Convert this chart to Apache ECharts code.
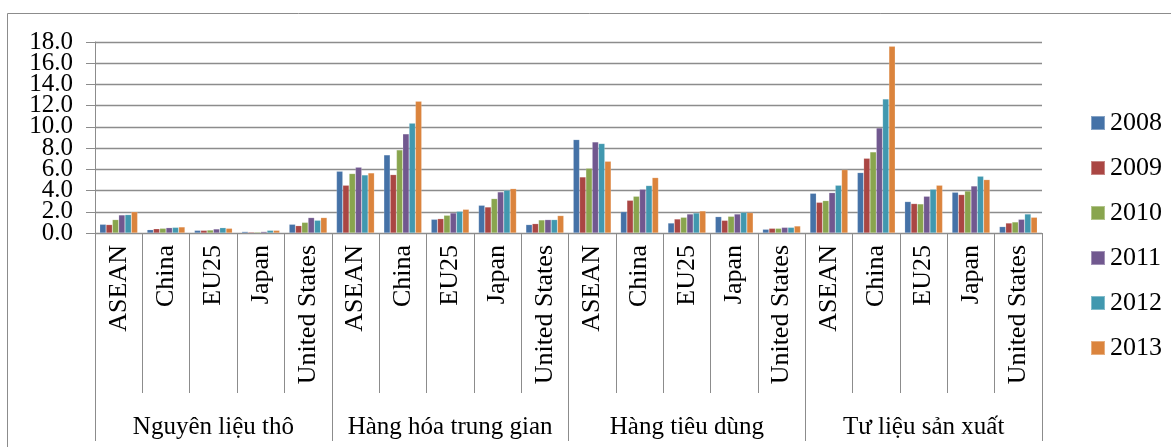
<!DOCTYPE html>
<html>
<head>
<meta charset="utf-8">
<script src="https://cdn.jsdelivr.net/npm/echarts@6/dist/echarts.min.js"></script>
<style>
  html, body { margin: 0; padding: 0; background: #ffffff; }
  #chart { width: 1171px; height: 447px; }
</style>
</head>
<body>
<div id="chart"></div>
<script>
// Product groups (outer axis level) and partner economies (inner level)
const groups = ['Nguyên liệu thô', 'Hàng hóa trung gian', 'Hàng tiêu dùng', 'Tư liệu sản xuất'];
const partners = ['ASEAN', 'China', 'EU25', 'Japan', 'United States'];
const years = ['2008', '2009', '2010', '2011', '2012', '2013'];
const yTicks = [0, 2, 4, 6, 8, 10, 12, 14, 16, 18];

// Values per year, ordered group by group, partner by partner
const v2008 = [0.82, 0.31, 0.25, 0.13, 0.82, 5.82, 7.36, 1.29, 2.61, 0.79, 8.80, 2.01, 0.94, 1.54, 0.35, 3.74, 5.69, 2.96, 3.84, 0.60];
const v2009 = [0.79, 0.40, 0.25, 0.09, 0.69, 4.50, 5.50, 1.35, 2.45, 0.88, 5.28, 3.08, 1.32, 1.19, 0.44, 2.89, 7.04, 2.77, 3.62, 0.94];
const v2010 = [1.26, 0.44, 0.28, 0.09, 1.00, 5.60, 7.83, 1.67, 3.24, 1.23, 6.10, 3.46, 1.48, 1.57, 0.44, 3.05, 7.64, 2.74, 3.96, 1.04];
const v2011 = [1.70, 0.50, 0.38, 0.13, 1.45, 6.20, 9.34, 1.89, 3.87, 1.26, 8.58, 4.12, 1.79, 1.79, 0.53, 3.80, 9.90, 3.46, 4.43, 1.29];
const v2012 = [1.73, 0.53, 0.50, 0.25, 1.20, 5.47, 10.35, 2.04, 4.03, 1.26, 8.43, 4.47, 1.89, 1.95, 0.53, 4.50, 12.64, 4.12, 5.35, 1.79];
const v2013 = [2.00, 0.57, 0.44, 0.25, 1.45, 5.66, 12.42, 2.23, 4.18, 1.64, 6.76, 5.22, 2.08, 1.92, 0.66, 5.97, 17.60, 4.50, 5.03, 1.48];

const seriesValues = [v2008, v2009, v2010, v2011, v2012, v2013];
const colors = ['#4572a7', '#aa4643', '#89a54e', '#71588f', '#4198af', '#db843d'];

const FONT = "'Liberation Serif', 'Times New Roman', serif";
const GRAY = '#8c8c8c';
const Y_MIN = yTicks[0];
const Y_MAX = yTicks[yTicks.length - 1];
const Y_STEP = yTicks[1] - yTicks[0];

// Inner-level categories: one slot per (group, partner) pair
const innerCats = [];
groups.forEach((g, gi) => partners.forEach(p => innerCats.push(gi + '|' + p)));

// The tick labels sit close together, so they are split over two
// overlaid value axes (alternate ticks each) to keep every one visible.
const tickLabel = parity => v => {
  const idx = Math.round((v - Y_MIN) / Y_STEP);
  return idx % 2 === parity ? v.toFixed(1) : '';
};
const yLabelStyle = parity => ({
  margin: 22,
  showMinLabel: true,
  showMaxLabel: true,
  fontFamily: FONT,
  fontSize: 25,
  color: '#000',
  formatter: tickLabel(parity)
});

const chart = echarts.init(document.getElementById('chart'), null, { renderer: 'canvas' });

chart.setOption({
  animation: false,
  backgroundColor: '#ffffff',
  textStyle: { fontFamily: FONT },
  graphic: [{
    type: 'rect',
    shape: { x: 7.5, y: 13.5, width: 1300, height: 600 },
    style: { fill: 'none', stroke: GRAY, lineWidth: 1 },
    silent: true,
    z: -10
  }],
  grid: { left: 95, right: 129, top: 42, bottom: 214, containLabel: false },
  legend: {
    orient: 'vertical',
    left: 1085,
    top: 105,
    itemWidth: 14,
    itemHeight: 14,
    itemGap: 19,
    icon: 'rect',
    data: years,
    textStyle: { fontFamily: FONT, fontSize: 26, color: '#000', lineHeight: 26 }
  },
  xAxis: [{
    type: 'category',
    data: innerCats,
    position: 'bottom',
    axisLine: { show: true, lineStyle: { color: GRAY, width: 1 } },
    axisTick: { show: true, interval: 0, length: 160, lineStyle: { color: GRAY, width: 1 } },
    axisLabel: {
      interval: 0,
      rotate: 90,
      margin: 12,
      fontFamily: FONT,
      fontSize: 26,
      color: '#000',
      formatter: v => v.split('|')[1]
    }
  }, {
    type: 'category',
    data: groups,
    position: 'bottom',
    axisLine: { show: false },
    axisTick: { show: true, interval: 0, length: 208, lineStyle: { color: GRAY, width: 1 } },
    axisLabel: {
      interval: 0,
      margin: 182,
      fontFamily: FONT,
      fontSize: 25,
      color: '#000'
    }
  }],
  yAxis: [{
    type: 'value',
    position: 'left',
    min: Y_MIN,
    max: Y_MAX,
    interval: Y_STEP,
    axisLine: { show: true, lineStyle: { color: GRAY, width: 1 } },
    axisTick: { show: true, length: 9, lineStyle: { color: GRAY, width: 1 } },
    splitLine: { show: true, lineStyle: { color: GRAY, width: 1.3 } },
    axisLabel: yLabelStyle(0)
  }, {
    type: 'value',
    position: 'left',
    offset: 0,
    min: Y_MIN,
    max: Y_MAX,
    interval: Y_STEP,
    axisLine: { show: false },
    axisTick: { show: false },
    splitLine: { show: false },
    axisLabel: yLabelStyle(1)
  }],
  series: years.map((y, i) => ({
    name: y,
    type: 'bar',
    xAxisIndex: 0,
    yAxisIndex: 0,
    data: seriesValues[i],
    barGap: '0%',
    barCategoryGap: '20%',
    itemStyle: { color: colors[i], borderColor: 'rgba(255,255,255,0.35)', borderWidth: 0.5 }
  }))
});
</script>
</body>
</html>
